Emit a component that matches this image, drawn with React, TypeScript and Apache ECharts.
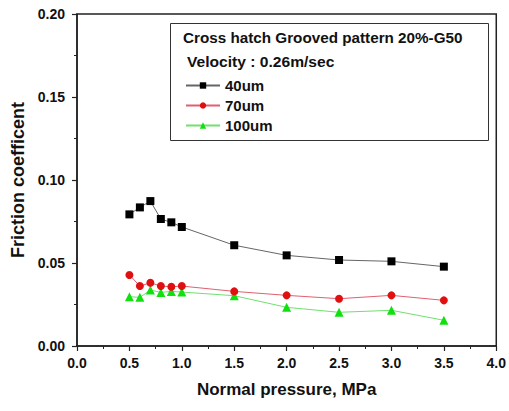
import React, { useEffect, useRef } from "react";
import * as echarts from "echarts";

const pressures = [0.5, 0.6, 0.7, 0.8, 0.9, 1.0, 1.5, 2.0, 2.5, 3.0, 3.5];
const um40 = [0.0793, 0.0835, 0.0873, 0.0765, 0.0745, 0.0717, 0.0607, 0.0546, 0.0518, 0.051, 0.0478];
const um70 = [0.0428, 0.0361, 0.0381, 0.0361, 0.0357, 0.0361, 0.0329, 0.0305, 0.0285, 0.0305, 0.0275];
const um100 = [0.0297, 0.0293, 0.0337, 0.0323, 0.0329, 0.0325, 0.0303, 0.0233, 0.0203, 0.0215, 0.0155];
const seriesNames = ["40um", "70um", "100um"];
const titleText = "Cross hatch Grooved pattern 20%-G50";
const velocityText = "Velocity : 0.26m/sec";

const FONT = "Liberation Sans, Arial, sans-serif";

export default function App() {
  const ref = useRef<HTMLDivElement>(null);
  useEffect(() => {
    if (!ref.current) return;
    const chart = echarts.init(ref.current, undefined, { renderer: "svg" });
    const pair = (ys: number[]) => pressures.map((x, i) => [x, ys[i]]);
    chart.setOption({
      animation: false,
      backgroundColor: "#fff",
      textStyle: { fontFamily: FONT },
      grid: { left: 77, right: 12, top: 14, bottom: 65, show: true, borderColor: "#222", borderWidth: 1.5, backgroundColor: "transparent" },
      xAxis: {
        type: "value", min: 0, max: 4, interval: 0.5,
        name: "Normal pressure, MPa", nameLocation: "middle", nameGap: 35,
        nameTextStyle: { fontFamily: FONT, fontWeight: "bold", fontSize: 17, color: "#111" },
        axisLine: { lineStyle: { color: "#222", width: 1.5 } },
        axisTick: { show: true, length: 5, lineStyle: { color: "#222", width: 1.2 } },
        minorTick: { show: true, splitNumber: 2, length: 3, lineStyle: { color: "#222" } },
        splitLine: { show: false },
        axisLabel: { fontFamily: FONT, fontWeight: "bold", fontSize: 14, color: "#111", margin: 10, formatter: (v: number) => v.toFixed(1) },
      },
      yAxis: {
        type: "value", min: 0, max: 0.2, interval: 0.05,
        name: "Friction coefficent", nameLocation: "middle", nameGap: 46,
        nameTextStyle: { fontFamily: FONT, fontWeight: "bold", fontSize: 18, color: "#111" },
        axisLine: { show: true, lineStyle: { color: "#222", width: 1.5 } },
        axisTick: { show: true, length: 5, lineStyle: { color: "#222", width: 1.2 } },
        minorTick: { show: true, splitNumber: 2, length: 3, lineStyle: { color: "#222" } },
        splitLine: { show: false },
        axisLabel: { fontFamily: FONT, fontWeight: "bold", fontSize: 14, color: "#111", margin: 12, formatter: (v: number) => v.toFixed(2) },
      },
      legend: {
        orient: "vertical", left: 185, top: 78, itemWidth: 34, itemHeight: 8, itemGap: 5, padding: 0,
        data: seriesNames,
        textStyle: { fontFamily: FONT, fontWeight: "bold", fontSize: 15, color: "#111" },
      },
      graphic: [
        { type: "rect", left: 170, top: 23, shape: { width: 318, height: 117 }, style: { fill: "#fff", stroke: "#333", lineWidth: 1 }, z: 0 },
        { type: "text", x: 183, y: 31, scaleX: 1.09, style: { text: titleText, font: `bold 14px ${FONT}`, fill: "#111" }, z: 1 },
        { type: "text", x: 187, y: 54, scaleX: 1.04, style: { text: velocityText, font: `bold 15px ${FONT}`, fill: "#111" }, z: 1 },
      ],
      series: [
        { name: seriesNames[0], type: "line", data: pair(um40), symbol: "rect", symbolSize: 8, itemStyle: { color: "#000" }, lineStyle: { color: "#666", width: 1 }, z: 5 },
        { name: seriesNames[1], type: "line", data: pair(um70), symbol: "circle", symbolSize: 8, itemStyle: { color: "#e01010" }, lineStyle: { color: "#e06070", width: 1 }, z: 4 },
        { name: seriesNames[2], type: "line", data: pair(um100), symbol: "triangle", symbolSize: 9, itemStyle: { color: "#10e010" }, lineStyle: { color: "#70e070", width: 1 }, z: 3 },
      ],
    });
    return () => chart.dispose();
  }, []);
  return <div ref={ref} style={{ width: 509, height: 411, position: "absolute", left: 0, top: 0 }} />;
}
